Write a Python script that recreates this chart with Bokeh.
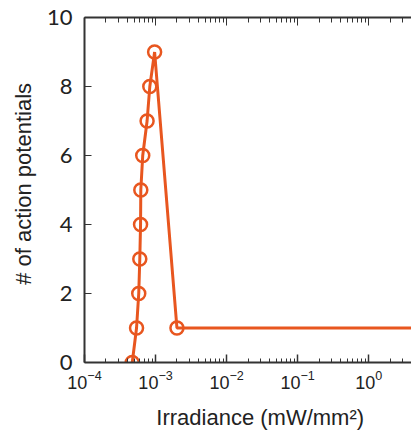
from bokeh.plotting import figure
from bokeh.models import LogAxis, FixedTicker, CustomJSTickFormatter, Range1d
from bokeh.embed import file_html
from bokeh.resources import INLINE

# Data
irradiance = [4.7e-4, 5.4e-4, 5.8e-4, 6.0e-4, 6.15e-4, 6.2e-4, 6.6e-4, 7.6e-4, 8.3e-4, 9.7e-4, 2.0e-3, 10.0]
action_potentials = [0, 1, 2, 3, 4, 5, 6, 7, 8, 9, 1, 1]

x_major = [1e-4, 1e-3, 1e-2, 1e-1, 1e0, 1e1]
x_minor = [m * 10.0 ** k for k in range(-4, 1) for m in range(2, 10)]
y_ticks = [0, 2, 4, 6, 8, 10]

ORANGE = "#E8561F"
AXIS = "#333333"
NB = "\u00A0"

p = figure(width=411, height=432, x_axis_type="log",
           x_range=Range1d(1e-4, 4.0), y_range=Range1d(0, 10),
           output_backend="svg", toolbar_location=None,
           min_border_left=84, min_border_top=17, min_border_right=0, min_border_bottom=70)
p.outline_line_color = None
p.grid.visible = False
p.background_fill_color = "white"
p.border_fill_color = "white"

xt = FixedTicker(ticks=x_major, minor_ticks=x_minor)

xa = p.xaxis[0]
xa.ticker = xt
xa.axis_line_color = AXIS
xa.axis_line_width = 2
xa.major_tick_in = 8
xa.major_tick_out = 0
xa.minor_tick_in = 4
xa.minor_tick_out = 0
xa.major_tick_line_color = AXIS
xa.minor_tick_line_color = AXIS
xa.major_tick_line_width = 1.5
xa.major_label_text_font = "Liberation Sans"
xa.major_label_text_font_size = "18px"
xa.major_label_text_color = "#222222"
xa.major_label_standoff = 7
xa.axis_label = NB * 4 + "Irradiance (mW/mm²)"
xa.axis_label_text_font = "Liberation Sans"
xa.axis_label_text_font_size = "22px"
xa.axis_label_text_font_style = "normal"
xa.axis_label_text_color = "#222222"
xa.axis_label_standoff = 13

ya = p.yaxis[0]
ya.ticker = FixedTicker(ticks=y_ticks)
ya.axis_line_color = AXIS
ya.axis_line_width = 2
ya.major_tick_in = 7
ya.major_tick_out = 0
ya.minor_tick_in = 0
ya.minor_tick_out = 0
ya.major_tick_line_color = AXIS
ya.major_label_text_font = "Lato"
ya.major_label_text_font_size = "22px"
ya.major_label_text_color = "#222222"
ya.major_label_standoff = 12
ya.axis_label = NB * 2 + "# of action potentials"
ya.axis_label_text_font = "Liberation Sans"
ya.axis_label_text_font_size = "22px"
ya.axis_label_text_font_style = "normal"
ya.axis_label_text_color = "#222222"
ya.axis_label_standoff = 8

top = LogAxis(ticker=xt, formatter=CustomJSTickFormatter(code="return ''"))
top.axis_line_color = AXIS
top.axis_line_width = 2
top.major_tick_in = 8
top.major_tick_out = 0
top.minor_tick_in = 5
top.minor_tick_out = 0
top.major_tick_line_color = AXIS
top.minor_tick_line_color = AXIS
top.major_label_standoff = 0
top.major_label_text_font_size = "1px"
p.add_layout(top, "above")

p.line(irradiance, action_potentials, line_color=ORANGE, line_width=3)
p.scatter(irradiance, action_potentials, marker="circle", size=13,
          fill_color=None, line_color=ORANGE, line_width=2.5)

open("out.html", "w").write(file_html(p, INLINE))
